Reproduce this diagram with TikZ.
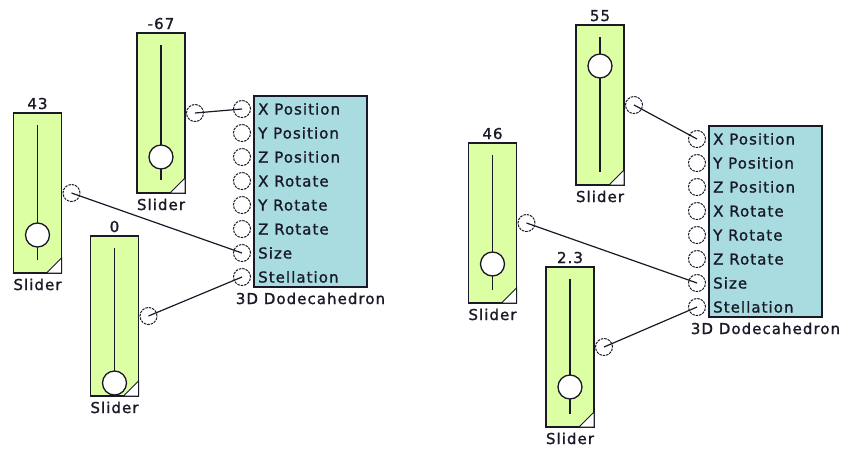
\documentclass[tikz,border=0pt]{standalone}
\usepackage{fontspec}
\setmainfont{DejaVu Sans}[LetterSpace=7, FakeBold=1.2]
\usetikzlibrary{calc,positioning}

\definecolor{slidergreen}{RGB}{221,255,163}
\definecolor{blockcyan}{RGB}{168,220,224}
\definecolor{inkdark}{RGB}{25,25,40}

\tikzset{
  sliderbox/.style={draw=inkdark, line width=1.4pt, fill=slidergreen,
    minimum width=48pt, minimum height=160pt, inner sep=0pt, outer sep=0pt},
  knob/.style={circle, draw=inkdark, line width=1.3pt, fill=white,
    minimum size=24pt, inner sep=0pt},
  port/.style={circle, draw=inkdark, dash pattern=on 2.5pt off 1pt, line width=1pt,
    minimum size=17pt, inner sep=0pt},
  blockbox/.style={draw=inkdark, line width=1.4pt, fill=blockcyan,
    minimum width=113pt, minimum height=191pt, inner sep=0pt, outer sep=0pt},
  caption/.style={inner sep=0pt, anchor=base, text=inkdark},
  wire/.style={draw=inkdark, line width=1.2pt}
}

% --- One slider: name, centre x, top y, value, knob offset from top ---
\newcommand{\addslider}[5]{%
  \node[sliderbox, anchor=north] (#1) at (#2,#3) {};
  \node[caption] (#1val) at ($(#1.north)+(0,-4)$) {#4};
  \node[caption] (#1cap) at ($(#1.south)+(0,17)$) {Slider};
  \draw[draw=inkdark, line width=1.4pt] ($(#1.north)+(0,12)$) -- ($(#1.south)+(0,-13)$);
  \draw[draw=inkdark, line width=1pt, fill=white]
    (#1.south east) -- ++(0,-15) -- ++(-15,15) -- cycle;
  \node[knob] (#1knob) at ($(#1.north)+(0,#5)$) {};
  \node[port] (#1out) at ($(#1.east)+(10,0)$) {};
}

% --- One 3D Dodecahedron block: name, left x, top y ---
\newcommand{\adddodeca}[3]{%
  \node[blockbox, anchor=north west] (#1) at (#2,#3) {};
  \node[caption] (#1cap) at ($(#1.south)+(0,17)$) {3D Dodecahedron};
  \foreach \lbl [count=\i from 0] in
      {X Position,Y Position,Z Position,X Rotate,Y Rotate,Z Rotate,Size,Stellation} {
    \node[port] (#1in\i) at ($(#1.north west)+(-12,13+24*\i)$) {};
    \node[caption, anchor=base west] (#1lbl\i) at ($(#1in\i)+(16,5.5)$) {\lbl};
  }
}

\begin{document}
\begin{tikzpicture}[x=1pt,y=-1pt]
\fontsize{15}{18}\selectfont

% --- Canvas ---
\fill[white] (0,0) rectangle (847,448);
\useasboundingbox (0,0) rectangle (847,448);

% --- Left example ---
\adddodeca{L}{254}{96}
\addslider{A}{37.5}{113}{43}{122}
\addslider{B}{161}{33}{-67}{124}
\addslider{C}{114.5}{236}{0}{147}

\draw[wire] (Bout.center) -- (Lin0.center);
\draw[wire] (Aout.center) -- (Lin6.center);
\draw[wire] (Cout.center) -- (Lin7.center);

% --- Right example ---
\adddodeca{R}{709}{126}
\addslider{D}{600}{25}{55}{41}
\addslider{E}{492.5}{143}{46}{121}
\addslider{F}{570}{267}{2.3}{120}

\draw[wire] (Dout.center) -- (Rin0.center);
\draw[wire] (Eout.center) -- (Rin6.center);
\draw[wire] (Fout.center) -- (Rin7.center);

\end{tikzpicture}
\end{document}
